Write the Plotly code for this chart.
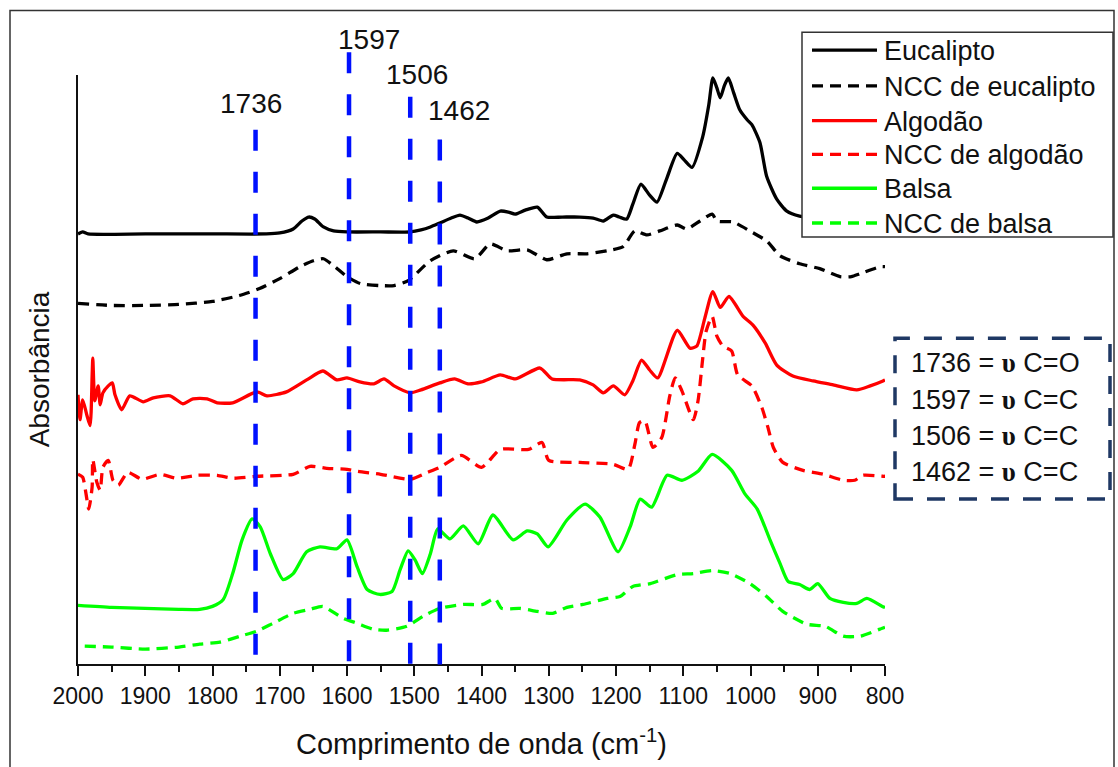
import plotly.graph_objects as go

# ---- spectra (wavenumber in cm-1, stacked absorbance in a.u.) ----
eucalipto_wn = [2000, 1993, 1985, 1900, 1800, 1720, 1700, 1680, 1667, 1657, 1648, 1635, 1620, 1600,
                1550, 1506, 1490, 1476, 1462, 1445, 1432, 1420, 1407, 1390, 1372, 1360, 1350, 1335,
                1317, 1303, 1280, 1254, 1234, 1219, 1204, 1195, 1184, 1175, 1163, 1150, 1139, 1125,
                1109, 1098, 1087, 1071, 1062, 1056, 1050, 1045, 1039, 1033, 1025, 1016, 1005, 998,
                986, 976, 961, 946, 927, 900, 850, 800]
eucalipto_abs = [433, 435, 433, 433, 433, 433, 434, 438, 446, 450, 448, 440, 436, 435,
                 435, 435, 437, 440, 444, 449, 452, 449, 445, 449, 456, 455, 453, 457,
                 460, 450, 450, 450, 449, 446, 452, 450, 448, 463, 483, 472, 465, 488,
                 514, 507, 500, 531, 563, 590, 580, 570, 582, 590, 575, 558, 548, 543,
                 525, 491, 468, 456, 451, 449, 448, 448]

ncc_eucalipto_wn = [2000, 1950, 1900, 1850, 1800, 1760, 1730, 1700, 1670, 1650, 1635, 1620, 1600,
                    1580, 1551, 1530, 1509, 1476, 1442, 1410, 1387, 1362, 1332, 1303, 1273, 1243,
                    1213, 1190, 1184, 1172, 1154, 1135, 1109, 1095, 1075, 1057, 1050, 1026, 1001,
                    976, 956, 927, 897, 867, 850, 837, 807, 800]
ncc_eucalipto_abs = [363, 361, 361, 362, 365, 371, 378, 388, 400, 406, 408, 401, 390,
                     383, 381, 381, 386, 406, 416, 408, 423, 416, 417, 407, 413, 413,
                     416, 420, 425, 436, 432, 436, 442, 438, 446, 453, 446, 445, 436,
                     426, 411, 403, 398, 390, 390, 393, 400, 400]

algodao_wn = [2000, 1997, 1993, 1987, 1982, 1979, 1978, 1975, 1970, 1967, 1963, 1955, 1949, 1945,
              1935, 1923, 1903, 1888, 1863, 1844, 1829, 1808, 1793, 1770, 1734, 1719, 1690, 1660,
              1636, 1615, 1600, 1581, 1560, 1545, 1530, 1506, 1490, 1462, 1440, 1420, 1400, 1372,
              1350, 1313, 1295, 1254, 1234, 1219, 1204, 1187, 1175, 1162, 1150, 1138, 1109, 1090,
              1080, 1068, 1056, 1045, 1032, 1011, 996, 978, 961, 937, 907, 877, 842, 822, 803, 800]
algodao_abs = [271, 246, 266, 251, 240, 290, 308, 265, 280, 261, 273, 280, 283, 271,
               256, 270, 264, 268, 270, 262, 267, 267, 263, 263, 274, 270, 274, 286,
               295, 286, 288, 284, 282, 287, 280, 273, 276, 283, 287, 282, 284, 291,
               287, 298, 287, 286, 281, 273, 280, 271, 285, 306, 296, 288, 336, 318,
               320, 348, 375, 359, 370, 350, 341, 323, 301, 290, 285, 281, 276, 280, 285, 286]

ncc_algodao_wn = [2000, 1993, 1988, 1984, 1979, 1978, 1972, 1967, 1963, 1955, 1948, 1940, 1926,
                  1905, 1878, 1853, 1823, 1793, 1770, 1734, 1680, 1655, 1630, 1600, 1585, 1550,
                  1506, 1480, 1462, 1430, 1400, 1372, 1330, 1310, 1300, 1254, 1204, 1182, 1172,
                  1165, 1157, 1145, 1132, 1120, 1112, 1102, 1085, 1078, 1071, 1066, 1057, 1050,
                  1041, 1028, 1019, 998, 983, 974, 966, 952, 922, 892, 862, 845, 833, 803, 800]
ncc_algodao_abs = [191, 188, 171, 156, 178, 206, 183, 175, 198, 205, 185, 180, 193,
                   186, 191, 187, 190, 190, 187, 189, 191, 199, 197, 196, 194, 191,
                   186, 193, 198, 210, 198, 216, 216, 223, 205, 203, 201, 196, 221,
                   243, 245, 218, 228, 270, 288, 275, 246, 265, 308, 335, 350, 330,
                   320, 315, 291, 280, 258, 238, 218, 203, 195, 191, 185, 185, 190, 189, 189]

balsa_wn = [2000, 1950, 1900, 1850, 1819, 1800, 1784, 1770, 1756, 1741, 1729, 1714, 1695, 1680,
            1660, 1640, 1615, 1600, 1585, 1570, 1551, 1533, 1521, 1509, 1499, 1488, 1476, 1465,
            1447, 1427, 1405, 1383, 1353, 1332, 1317, 1301, 1273, 1246, 1224, 1197, 1179, 1164,
            1147, 1124, 1102, 1078, 1057, 1028, 1008, 990, 971, 956, 944, 927, 912, 900, 882,
            862, 842, 827, 804, 800]
balsa_abs = [59, 57, 56, 55, 55, 58, 65, 91, 125, 146, 138, 111, 85, 91,
             113, 118, 116, 125, 98, 75, 70, 73, 95, 114, 105, 91, 111, 136,
             126, 139, 121, 150, 125, 134, 131, 118, 145, 161, 148, 113, 138, 166,
             158, 190, 185, 194, 211, 195, 171, 156, 125, 101, 83, 80, 75, 81, 66,
             62, 61, 66, 58, 57]

ncc_balsa_wn = [1990, 1950, 1900, 1850, 1819, 1789, 1759, 1734, 1710, 1680, 1655, 1636, 1606,
                1585, 1561, 1541, 1511, 1487, 1462, 1427, 1398, 1380, 1370, 1343, 1317, 1294,
                1273, 1249, 1213, 1194, 1175, 1149, 1109, 1085, 1057, 1030, 1001, 976, 952, 916,
                889, 862, 837, 804, 800]
ncc_balsa_abs = [18, 17, 15, 17, 20, 22, 28, 33, 41, 51, 55, 58, 46,
                 41, 35, 34, 38, 48, 56, 60, 60, 66, 56, 56, 53, 51,
                 57, 60, 66, 68, 78, 81, 90, 91, 94, 91, 81, 68, 53, 40,
                 38, 28, 28, 36, 37]

series_names = ["Eucalipto", "NCC de eucalipto", "Algodão", "NCC de algodão", "Balsa", "NCC de balsa"]
series_colors = ["#000000", "#000000", "#ff0000", "#ff0000", "#00ff00", "#00ff00"]
series_dashed = [False, True, False, True, False, True]
series_data = [(eucalipto_wn, eucalipto_abs), (ncc_eucalipto_wn, ncc_eucalipto_abs),
               (algodao_wn, algodao_abs), (ncc_algodao_wn, ncc_algodao_abs),
               (balsa_wn, balsa_abs), (ncc_balsa_wn, ncc_balsa_abs)]

# marked bands and their assignments
band_wn = [1736, 1597, 1506, 1462]
band_assign = ["C=O", "C=C", "C=C", "C=C"]

x_ticks = list(range(2000, 799, -100))

# ---- page geometry (pixels) ----
W, H = 1118, 767
PL, PR, PT, PB = 78, 885, 75, 668


def px(xp):
    return (xp - PL) / (PR - PL)


def py(yp):
    return (PB - yp) / (PB - PT)


BASE_FONT = "Liberation Sans, Arial, sans-serif"
DASH_CURVE = "11px,7px"

fig = go.Figure()
for (wn, ab), name, col, dashed in zip(series_data, series_names, series_colors, series_dashed):
    fig.add_trace(go.Scatter(
        x=wn, y=ab, mode="lines", name=name, showlegend=False,
        line=dict(color=col, width=3.3, shape="spline", smoothing=0.6,
                  dash=DASH_CURVE if dashed else "solid"),
    ))

shapes = []
annotations = []

# outer frame
shapes.append(dict(type="rect", xref="paper", yref="paper",
                   x0=px(10), x1=px(1114), y0=py(820), y1=py(10),
                   line=dict(color="#333333", width=1.5), fillcolor="rgba(0,0,0,0)", layer="below"))

# band markers: dashed vertical lines with wavenumber labels
band_top = [130, 52, 97, 140]
band_bottom = [662, 671, 670, 670]
label_pos = [(251, 104), (369, 39), (417, 74), (459, 111)]
for wn, top, bot, (lx, ly) in zip(band_wn, band_top, band_bottom, label_pos):
    shapes.append(dict(type="line", xref="x", yref="paper", x0=wn, x1=wn,
                       y0=py(top), y1=py(bot),
                       line=dict(color="#0010ff", width=4.5, dash="21px,21px")))
    annotations.append(dict(xref="paper", yref="paper", x=px(lx), y=py(ly),
                            text=str(wn), showarrow=False, xanchor="center", yanchor="middle",
                            font=dict(family=BASE_FONT, size=28, color="#111111")))

# legend box
shapes.append(dict(type="rect", xref="paper", yref="paper",
                   x0=px(802), x1=px(1113), y0=py(238), y1=py(32),
                   line=dict(color="#333333", width=1.5), fillcolor="#ffffff"))
leg_y = [50, 86, 121, 155, 189, 224]
for name, col, dashed, ly in zip(series_names, series_colors, series_dashed, leg_y):
    shapes.append(dict(type="line", xref="paper", yref="paper",
                       x0=px(812), x1=px(877), y0=py(ly), y1=py(ly),
                       line=dict(color=col, width=3.3, dash=DASH_CURVE if dashed else "solid")))
    annotations.append(dict(xref="paper", yref="paper", x=px(882), y=py(ly + 1),
                            text=name, showarrow=False, xanchor="left", yanchor="middle",
                            font=dict(family=BASE_FONT, size=27, color="#111111")))

# assignment box
shapes.append(dict(type="rect", xref="paper", yref="paper",
                   x0=px(895), x1=px(1110), y0=py(502), y1=py(340),
                   line=dict(color="#1f3864", width=3.5, dash="18px,14px"),
                   fillcolor="rgba(0,0,0,0)"))
assign_y = [365, 402, 438, 475]
for wn, grp, ay in zip(band_wn, band_assign, assign_y):
    annotations.append(dict(
        xref="paper", yref="paper", x=px(909), y=py(ay),
        text=f"{wn} = <span style='font-family:Liberation Serif, serif'><b>υ</b></span> {grp}",
        showarrow=False, xanchor="left", yanchor="middle",
        font=dict(family=BASE_FONT, size=27, color="#111111")))

fig.update_layout(
    width=W, height=H,
    margin=dict(l=PL, r=W - PR, t=PT, b=H - PB, pad=0),
    paper_bgcolor="#ffffff", plot_bgcolor="#ffffff",
    shapes=shapes, annotations=annotations,
    xaxis=dict(
        range=[2000, 800], tickvals=x_ticks, ticktext=[str(t) for t in x_ticks],
        ticks="outside", ticklen=10, tickwidth=2, tickcolor="#111111",
        minor=dict(tickvals=[t - 50 for t in x_ticks[:-1]], ticks="outside", ticklen=6,
                   tickwidth=2, tickcolor="#111111"),
        showline=True, linecolor="#111111", linewidth=2, mirror=False,
        showgrid=False, zeroline=False,
        tickfont=dict(family=BASE_FONT, size=23, color="#111111"),
        title=dict(text="Comprimento de onda (cm<sup>-1</sup>)", standoff=26,
                   font=dict(family=BASE_FONT, size=29, color="#111111")),
    ),
    yaxis=dict(
        range=[0, 593], showticklabels=False, ticks="",
        showline=True, linecolor="#111111", linewidth=2,
        showgrid=False, zeroline=False,
        title=dict(text="Absorbância", standoff=18,
                   font=dict(family=BASE_FONT, size=28, color="#111111")),
    ),
)

fig.write_html("out.html")
